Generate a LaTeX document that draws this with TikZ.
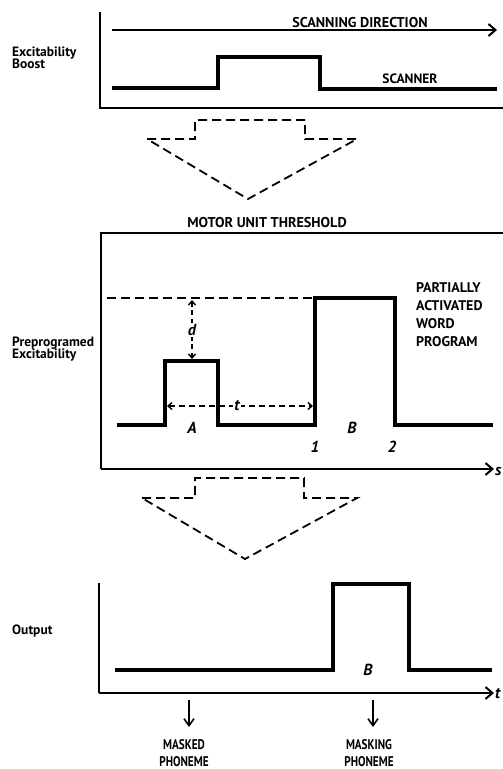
\documentclass[tikz,border=0pt]{standalone}
\usepackage{fontspec}
\setmainfont{PT Sans}
\newfontfamily\condfont[FakeStretch=0.8]{PT Sans}
\usetikzlibrary{arrows.meta}
\begin{document}
\begin{tikzpicture}[x=1pt,y=-1pt,
 lbl/.style={font=\bfseries\fontsize{13.5}{12.5}\selectfont, align=left, anchor=west, inner sep=0pt},
 caps/.style={font=\bfseries\fontsize{14.2}{18}\selectfont, inner sep=0pt},
 ital/.style={font=\bfseries\itshape\fontsize{16}{16}\selectfont, inner sep=1pt},
 axis/.style={line width=2pt},
 sig/.style={line width=3.2pt, line join=miter},
 dsh/.style={line width=1.8pt, dash pattern=on 9pt off 5pt},
 tip/.style={-{Straight Barb[length=7pt,width=12pt,line width=2pt]}},
 dtips/.style={{Straight Barb[length=4pt,width=7pt,line width=1.4pt]}-{Straight Barb[length=4pt,width=7pt,line width=1.4pt]}},
 down/.style={line width=1.6pt,-{Straight Barb[length=7pt,width=10pt,line width=1.6pt]}}
]
\useasboundingbox (0,0) rectangle (503,769);

% ---------------- top panel
\coordinate (tTop) at (100,12);
\coordinate (tO) at (100,108);
\coordinate (tE) at (503,108);
\draw[axis] (tTop) -- (tO) -- (tE);
\coordinate (sd0) at (112,30);
\coordinate (sd1) at (497,30);
\draw[line width=1.6pt,tip] (sd0) -- (sd1);
\node[caps] (sdir) at (360,23) {SCANNING DIRECTION};
\draw[sig] (112,88) -- (218,88) -- (218,57) -- (320,57) -- (320,89) -- (497,89);
\node[caps,font=\bfseries\fontsize{13.5}{18}\selectfont] (scn) at (410,79) {SCANNER};
\node[lbl] (eb) at (12,58) {Excitability\\Boost};

% dashed arrow 1
\draw[dsh] (147,139) -- (195,139) -- (195,120) -- (305,120) -- (305,139) -- (357,139) -- (248,199) -- cycle;

% ---------------- middle panel
\node[caps] (mut) at (267,223) {MOTOR UNIT THRESHOLD};
\draw[axis] (503,233) -- (101,233) -- (101,469);
\coordinate (mO) at (101,469);
\coordinate (mE) at (494,469);
\draw[axis,tip] (mO) -- (mE);
\node[ital,anchor=west] (s) at (494,471) {s};
\draw[dsh] (107,298) -- (315,298);
\draw[sig] (117,425) -- (165,425) -- (165,361) -- (218,361) -- (218,425) -- (315,425) -- (315,298) -- (395,298) -- (395,425) -- (493,425);
\coordinate (d0) at (192,300);
\coordinate (d1) at (192,359);
\draw[dsh,dtips,dash pattern=on 5pt off 3.5pt] (d0) -- (d1);
\node[ital,fill=white] (d) at (192,330) {d};
\coordinate (tt0) at (167,406);
\coordinate (tt1) at (313,406);
\draw[dsh,dtips,dash pattern=on 6pt off 4pt] (tt0) -- (tt1);
\node[ital,fill=white] (tl) at (237,406) {t};
\node[ital] (A) at (192,428) {A};
\node[ital] (B) at (352,428) {B};
\node[ital] (n1) at (315,447) {1};
\node[ital] (n2) at (392,447) {2};
\node[caps,font=\bfseries\fontsize{14}{18}\selectfont,align=left,anchor=west] (pawp) at (416,315) {PARTIALLY\\ACTIVATED\\WORD\\PROGRAM};
\node[lbl] (pe) at (12,349) {Preprogramed\\Excitability};

% dashed arrow 2
\draw[dsh] (142,498) -- (195,498) -- (195,478) -- (304,478) -- (304,498) -- (357,498) -- (245,559) -- cycle;

% ---------------- bottom panel
\coordinate (bTop) at (99,583);
\coordinate (bO) at (99,693);
\coordinate (bE) at (494,693);
\draw[axis] (bTop) -- (bO);
\draw[axis,tip] (bO) -- (bE);
\node[ital,anchor=west] (tax) at (494,694) {t};
\draw[sig] (115,670) -- (333,670) -- (333,584) -- (409,584) -- (409,670) -- (492,670);
\node[ital] (B2) at (368,670) {B};
\node[lbl] (out) at (12,631) {Output};
\node[caps,align=center,font=\condfont\bfseries\fontsize{14}{17}\selectfont] (mkd) at (184,753) {MASKED\\PHONEME};
\node[caps,align=center,font=\condfont\bfseries\fontsize{14}{17}\selectfont] (mkg) at (369,753) {MASKING\\PHONEME};
\coordinate (a1) at (189,700);
\coordinate (a2) at (373,700);
\coordinate (a1e) at (189,727);
\coordinate (a2e) at (373,727);
\draw[down] (a1) -- (a1e);
\draw[down] (a2) -- (a2e);
\end{tikzpicture}
\end{document}
